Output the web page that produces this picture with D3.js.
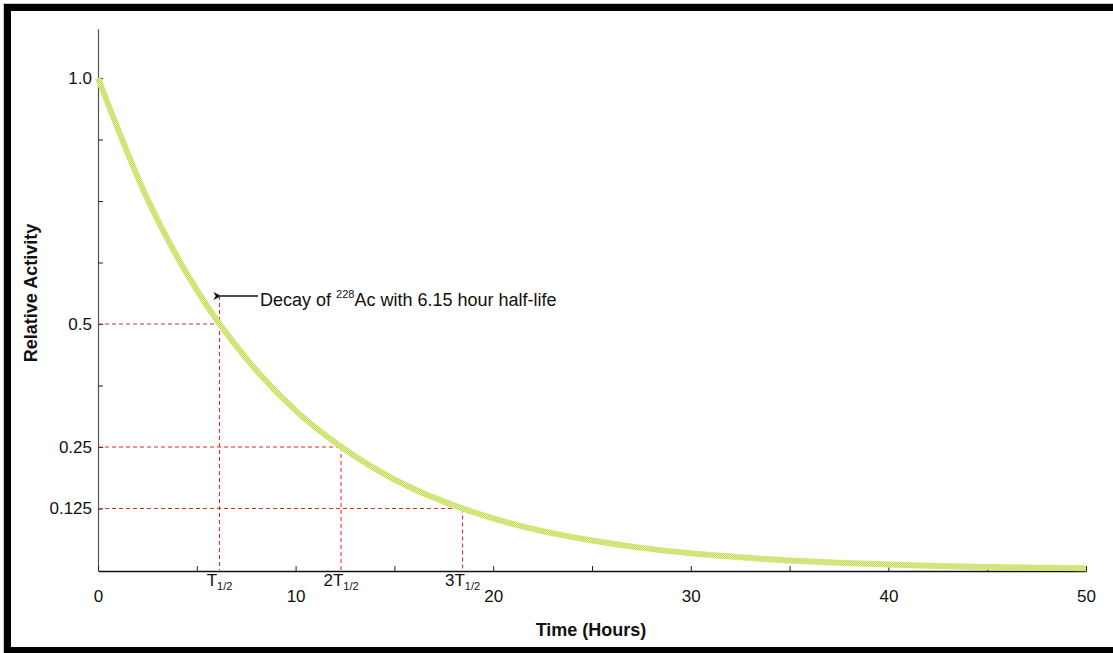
<!DOCTYPE html>
<html>
<head>
<meta charset="utf-8">
<script src="https://cdn.jsdelivr.net/npm/d3@7"></script>
<style>
  html, body { margin: 0; padding: 0; background: #fff; }
  svg { display: block; font-family: "Liberation Sans", Arial, sans-serif; }
</style>
</head>
<body>
<div id="main"></div>
<script>
// decay curve (hours, relative activity)
const hours = [0, 2.5, 5, 7.5, 10, 12.5, 15, 17.5, 20, 22.5, 25, 27.5, 30, 32.5, 35, 37.5, 40, 42.5, 45, 47.5, 50];
const activity = [1.0, 0.754, 0.569, 0.430, 0.324, 0.245, 0.184, 0.139, 0.105, 0.079, 0.060, 0.045, 0.034, 0.0257, 0.0194, 0.0146, 0.0110, 0.0083, 0.0063, 0.0047, 0.0036];

// half-life markers
const halfLifeTimes = [6.15, 12.3, 18.45];
const halfLifeLevels = [0.5, 0.25, 0.125];
const halfLifePrefix = ['', '2', '3'];

// axis ticks
const xTicks = [0, 5, 10, 15, 20, 25, 30, 35, 40, 45, 50];
const xLabels = [0, 10, 20, 30, 40, 50];
const yTicks = [1.0, 0.875, 0.75, 0.625, 0.5, 0.375, 0.25, 0.125];
const yLabels = {1.0: '1.0', 0.5: '0.5', 0.25: '0.25', 0.125: '0.125'};

const width = 1113, height = 653;
const svg = d3.select('#main').append('svg')
    .attr('width', width)
    .attr('height', height);

// frame
svg.append('rect').attr('x', 3).attr('y', 3).attr('width', width - 3).attr('height', 1).attr('fill', '#c8c8c8');
svg.append('rect').attr('x', 3).attr('y', 3).attr('width', 1).attr('height', height - 3).attr('fill', '#c8c8c8');
svg.append('rect').attr('x', 4).attr('y', 4).attr('width', width - 4).attr('height', 7).attr('fill', '#000');
svg.append('rect').attr('x', 4).attr('y', 4).attr('width', 7).attr('height', height - 4).attr('fill', '#000');
svg.append('rect').attr('x', 4).attr('y', 647).attr('width', width - 4).attr('height', 6).attr('fill', '#000');

const x = d3.scaleLinear().domain([0, 50]).range([98, 1086]);
const y = d3.scaleLinear().domain([0, 1.1]).range([570, 570 - 1.1 * 492]);

// hatched fill for the curve
const defs = svg.append('defs');
const pat = defs.append('pattern')
    .attr('id', 'hatch')
    .attr('patternUnits', 'userSpaceOnUse')
    .attr('width', 2).attr('height', 2);
pat.append('rect').attr('width', 2).attr('height', 2).attr('fill', '#dcee9c');
pat.append('rect').attr('width', 1).attr('height', 1).attr('fill', '#c4de5a');
pat.append('rect').attr('x', 1).attr('y', 1).attr('width', 1).attr('height', 1).attr('fill', '#c4de5a');

// axes
const yAxis = svg.append('g')
    .attr('transform', 'translate(98,0)')
    .call(d3.axisLeft(y)
        .tickValues(yTicks)
        .tickSizeInner(-5)
        .tickSizeOuter(0)
        .tickPadding(6)
        .tickFormat(d => yLabels[d] || ''));
yAxis.select('.domain').attr('stroke', '#555').attr('stroke-width', 1.2);
yAxis.selectAll('.tick line').attr('stroke', '#222');
yAxis.selectAll('.tick text').attr('font-size', 17).attr('fill', '#111')
    .attr('font-family', '"Liberation Sans", Arial, sans-serif');

const xAxis = svg.append('g')
    .attr('transform', 'translate(0,571)')
    .call(d3.axisBottom(x)
        .tickValues(xTicks)
        .tickSizeInner(-5)
        .tickSizeOuter(0)
        .tickPadding(19)
        .tickFormat(d => xLabels.indexOf(d) >= 0 ? String(d) : ''));
xAxis.select('.domain').attr('stroke', '#111').attr('stroke-width', 1.5);
xAxis.selectAll('.tick line').attr('stroke', '#222');
xAxis.selectAll('.tick text').attr('font-size', 17).attr('fill', '#111')
    .attr('font-family', '"Liberation Sans", Arial, sans-serif');

// dashed guides
const guides = svg.append('g')
    .attr('stroke', '#ee2222')
    .attr('stroke-width', 1)
    .attr('stroke-dasharray', '4,3')
    .attr('fill', 'none');
halfLifeTimes.forEach((t, i) => {
    const level = halfLifeLevels[i];
    guides.append('line')
        .attr('x1', x(0)).attr('x2', x(t))
        .attr('y1', y(level)).attr('y2', y(level));
    guides.append('line')
        .attr('x1', x(t)).attr('x2', x(t))
        .attr('y1', i === 0 ? 296 : y(level)).attr('y2', y(0));
});

// decay curve
const points = hours.map((h, i) => ({ h: h, v: activity[i] }));
const lineGen = d3.line()
    .x(d => x(d.h))
    .y(d => y(d.v))
    .curve(d3.curveMonotoneX);
svg.append('path')
    .datum(points)
    .attr('fill', 'none')
    .attr('stroke', 'url(#hatch)')
    .attr('stroke-width', 6)
    .attr('d', lineGen);

// half-life labels under the axis
halfLifeTimes.forEach((t, i) => {
    const txt = svg.append('text')
        .attr('x', x(t))
        .attr('y', 586)
        .attr('text-anchor', 'middle')
        .attr('font-size', 17)
        .attr('fill', '#111');
    txt.append('tspan').text(halfLifePrefix[i] + 'T');
    txt.append('tspan').attr('font-size', 11).attr('dy', 4).text('1/2');
});

// annotation arrow
defs.append('marker')
    .attr('id', 'arrow')
    .attr('viewBox', '0 0 10 10')
    .attr('refX', 1).attr('refY', 5)
    .attr('markerWidth', 10).attr('markerHeight', 8)
    .attr('markerUnits', 'userSpaceOnUse')
    .attr('orient', 'auto-start-reverse')
    .append('path')
    .attr('d', 'M0,5 L10,0 L7,5 L10,10 Z')
    .attr('fill', '#111');
svg.append('line')
    .attr('x1', 258).attr('x2', x(halfLifeTimes[0]) + 1)
    .attr('y1', 296).attr('y2', 296)
    .attr('stroke', '#111')
    .attr('stroke-width', 1.5)
    .attr('marker-end', 'url(#arrow)');

const note = svg.append('text')
    .attr('x', 260).attr('y', 306)
    .attr('font-size', 18)
    .attr('fill', '#111');
note.append('tspan').text('Decay of ');
note.append('tspan').attr('font-size', 11).attr('dy', -8).text('228');
note.append('tspan').attr('dy', 8).text('Ac with 6.15 hour half-life');

// axis titles
svg.append('text')
    .attr('x', 591).attr('y', 636)
    .attr('text-anchor', 'middle')
    .attr('font-size', 18)
    .attr('font-weight', 'bold')
    .attr('fill', '#111')
    .text('Time (Hours)');

svg.append('text')
    .attr('transform', 'translate(37,293) rotate(-90)')
    .attr('text-anchor', 'middle')
    .attr('font-size', 18)
    .attr('font-weight', 'bold')
    .attr('fill', '#111')
    .text('Relative Activity');
</script>
</body>
</html>
